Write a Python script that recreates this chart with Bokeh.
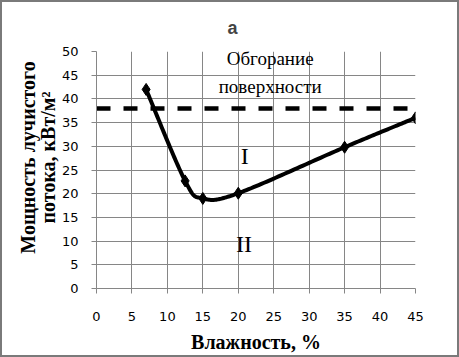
import numpy as np
from bokeh.plotting import figure
from bokeh.models import Range1d, FixedTicker, Label
from bokeh.embed import file_html
from bokeh.resources import INLINE

# ---- data ----
moisture = [7, 12.5, 15, 20, 35, 45]          # Влажность, %
power = [42, 22.7, 19, 20.1, 29.8, 36]          # кВт/м²
threshold = 38                                  # обгорание поверхности
x_ticks = [0, 5, 10, 15, 20, 25, 30, 35, 40, 45]
y_ticks = [0, 5, 10, 15, 20, 25, 30, 35, 40, 45, 50]
title_text = "а"
x_title = "Влажность, %"
y_title_lines = ["Мощность лучистого", "потока, кВт/м²"]
zone_top = "Обгорание"
zone_top2 = "поверхности"
zone_1 = "I"
zone_2 = "II"


def smooth(xs, ys, n=40):
    """Catmull-Rom (Excel-like) smoothing through the given points."""
    xs = np.asarray(xs, float)
    ys = np.asarray(ys, float)
    px = np.concatenate([[xs[0]], xs, [xs[-1]]])
    py = np.concatenate([[ys[0]], ys, [ys[-1]]])
    ox, oy = [], []
    for i in range(1, len(px) - 2):
        p0x, p1x, p2x, p3x = px[i - 1], px[i], px[i + 1], px[i + 2]
        p0y, p1y, p2y, p3y = py[i - 1], py[i], py[i + 1], py[i + 2]
        c1x, c1y = p1x + (p2x - p0x) / 6, p1y + (p2y - p0y) / 6
        c2x, c2y = p2x - (p3x - p1x) / 6, p2y - (p3y - p1y) / 6
        t = np.linspace(0, 1, n)
        b0, b1, b2, b3 = (1 - t) ** 3, 3 * t * (1 - t) ** 2, 3 * t ** 2 * (1 - t), t ** 3
        ox.extend(b0 * p1x + b1 * c1x + b2 * c2x + b3 * p2x)
        oy.extend(b0 * p1y + b1 * c1y + b2 * c2y + b3 * p2y)
    return ox, oy


GRID = "#868686"
NBSP = "\u00a0"

p = figure(frame_width=319, frame_height=237,
           x_range=Range1d(0, 45), y_range=Range1d(0, 50),
           output_backend="svg", toolbar_location=None,
           min_border_left=94, min_border_right=42, min_border_top=49,
           min_border_bottom=10)
p.styles = {"border": "2px solid #7a7a7a"}

p.outline_line_color = None
p.background_fill_color = "white"
p.border_fill_color = "white"

# title
p.title.text = title_text
p.title.text_font = "Liberation Sans"
p.title.text_font_size = "18px"
p.title.text_font_style = "bold"
p.title.text_line_height = 0.7
p.title.align = "left"
p.title.offset = 131
p.title.standoff = 27

# axes
for ax in (p.xaxis[0], p.yaxis[0]):
    ax.axis_line_color = GRID
    ax.major_tick_line_color = GRID
    ax.minor_tick_line_color = None
    ax.major_tick_out = 5
    ax.major_tick_in = 0
    ax.major_label_text_font = "DejaVu Sans"
    ax.major_label_text_font_size = "13px"
    ax.major_label_text_color = "black"
    ax.axis_label_text_font = "Liberation Serif"
    ax.axis_label_text_font_size = "20px"
    ax.axis_label_text_font_style = "bold"
    ax.axis_label_text_color = "black"

p.xaxis.ticker = FixedTicker(ticks=x_ticks)
p.yaxis.ticker = FixedTicker(ticks=y_ticks)
p.xaxis.major_label_standoff = 18
p.yaxis.major_label_standoff = 13
p.xaxis.axis_label = x_title
p.yaxis.axis_label = "\n".join(NBSP * 5 + s for s in y_title_lines)
p.xaxis.axis_label_standoff = 7
p.xaxis.axis_label_text_line_height = 0.85
p.yaxis.axis_label_standoff = 0
p.yaxis.axis_label_text_line_height = 0.9

p.xgrid.ticker = FixedTicker(ticks=x_ticks)
p.ygrid.ticker = FixedTicker(ticks=y_ticks)
p.xgrid.grid_line_color = GRID
p.ygrid.grid_line_color = GRID
p.xgrid.grid_line_width = 1
p.ygrid.grid_line_width = 1

# threshold dashed line
p.line([x_ticks[0], x_ticks[-1]], [threshold, threshold], line_color="black",
       line_width=4.5, line_dash="14 13", line_cap="butt")

# smoothed curve with diamond markers
sx, sy = smooth(moisture, power)
p.line(sx, sy, line_color="black", line_width=4, line_join="round")
p.scatter(moisture, power, marker="diamond", size=12, fill_color="black",
          line_color="black")

# zone labels
serif = "Liberation Serif"
for txt, x, y, size in [(zone_top, 24.5, 48.6, "19px"),
                        (zone_top2, 24.5, 42.6, "19px"),
                        (zone_1, 20.9, 27.9, "24px"),
                        (zone_2, 20.8, 9.4, "24px")]:
    p.add_layout(Label(x=x, y=y, text=txt, text_font=serif,
                       text_font_size=size, text_align="center",
                       text_baseline="alphabetic", text_color="black"))

open("out.html", "w").write(file_html(p, INLINE))
